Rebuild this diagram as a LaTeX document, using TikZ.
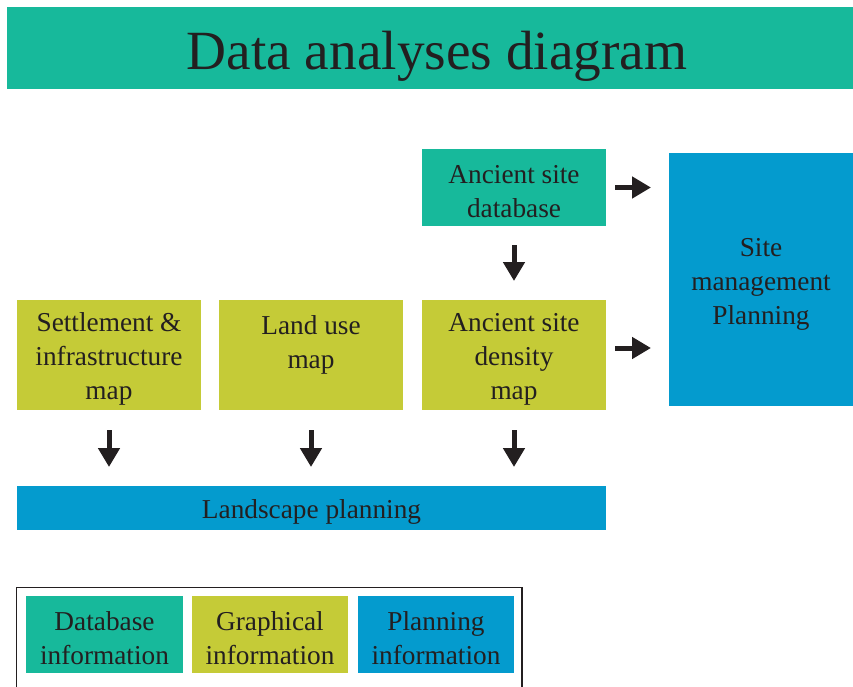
\documentclass[tikz,border=0pt]{standalone}
\usepackage{fontspec}
\setmainfont{Liberation Serif}
\usetikzlibrary{arrows.meta,calc}
\definecolor{teal1}{RGB}{23,185,155}
\definecolor{olive1}{RGB}{197,203,55}
\definecolor{blue1}{RGB}{4,155,206}
\definecolor{txt}{RGB}{35,31,32}
\newcommand\firstlinestrut{\rule{0pt}{27pt}}
\begin{document}
\begin{tikzpicture}[x=1pt,y=-1pt,
  box/.style={rectangle,inner sep=0pt,outer sep=0pt,align=center,text=txt,
    font=\fontsize{27.3}{34}\selectfont,minimum width=184pt},
  dbbox/.style={box,fill=teal1},
  grbox/.style={box,fill=olive1},
  plbox/.style={box,fill=blue1},
  titletext/.style={anchor=base,inner sep=0pt,text=txt,font=\fontsize{55.3}{60}\selectfont},
  arr/.style={-{Triangle[length=19pt,width=21pt]},line width=5pt,draw=txt}]
\useasboundingbox (0,0) rectangle (853,686);
\node[dbbox,minimum width=846pt,minimum height=82pt] (titlebar) at (430,48) {};
\node[titletext] (ttl) at (437,69.5) {Data analyses diagram};
\node[dbbox,minimum height=77pt] (db) at (514,187.5) {\firstlinestrut Ancient site\\database};
\node[plbox,minimum height=253pt] (site) at (761,279.5) {\firstlinestrut Site\\management\\Planning};
\node[grbox,minimum height=110pt] (settle) at (109,355) {\firstlinestrut Settlement \&\\infrastructure\\map};
\node[grbox,minimum height=110pt] (landuse) at (311,355) {\firstlinestrut Land use\\map\\\mbox{}};
\node[grbox,minimum height=110pt] (density) at (514,355) {\firstlinestrut Ancient site\\density\\map};
\node[plbox,minimum width=589pt,minimum height=44pt] (land) at (311.5,508) {\firstlinestrut Landscape planning};
\coordinate (dsout) at ([yshift=7pt]density.east);
\draw[arr,shorten <=9pt,shorten >=18pt] (db.east) -- (site.west |- db.east);
\draw[arr,shorten <=9pt,shorten >=18pt] (dsout) -- (site.west |- dsout);
\draw[arr,shorten <=19pt,shorten >=19pt] (db.south) -- (density.north);
\draw[arr,shorten <=20pt,shorten >=19pt] (settle.south) -- (settle.south |- land.north);
\draw[arr,shorten <=20pt,shorten >=19pt] (landuse.south) -- (landuse.south |- land.north);
\draw[arr,shorten <=20pt,shorten >=19pt] (density.south) -- (density.south |- land.north);
\coordinate (lgbl) at (16.5,690);
\coordinate (lgtr) at (522,587.5);
\draw[line width=1.3pt,draw=txt] (lgbl) |- (lgtr) -- (lgtr |- lgbl);
\node[dbbox,minimum width=157pt,minimum height=77pt] (lg1) at (104.5,634.5) {\firstlinestrut Database\\information};
\node[grbox,minimum width=156pt,minimum height=77pt] (lg2) at (270,634.5) {\firstlinestrut Graphical\\information};
\node[plbox,minimum width=156pt,minimum height=77pt] (lg3) at (436,634.5) {\firstlinestrut Planning\\information};
\end{tikzpicture}
\end{document}
